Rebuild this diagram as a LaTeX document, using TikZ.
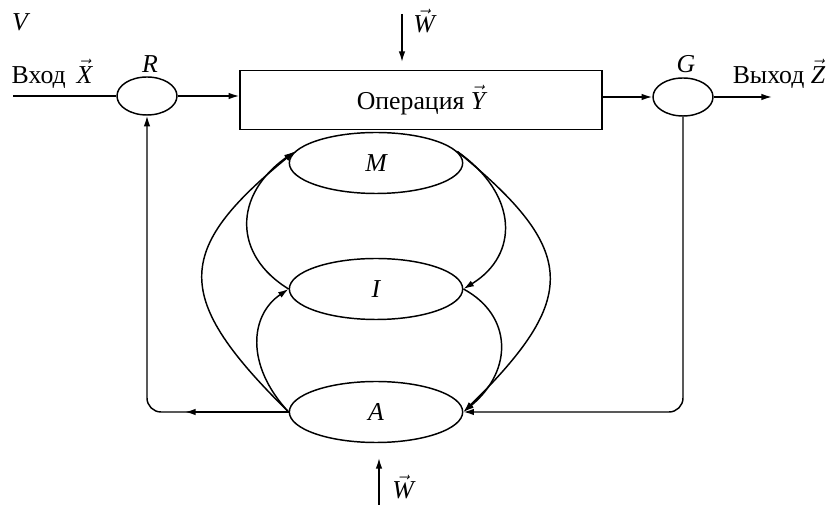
\documentclass[tikz,border=0pt]{standalone}
\usepackage{fontspec}
\setmainfont{Liberation Serif}
\usepackage{amsmath}
\usetikzlibrary{shapes.geometric,arrows.meta}

\newcommand{\iv}[1]{\ensuremath{\vec{\text{\itshape #1}}}}

\begin{document}
\begin{tikzpicture}[x=0.03cm, y=0.03cm, line width=1.25pt,
	every node/.style={font=\fontsize{22}{25}\selectfont},
	knot/.style={ellipse, draw, inner sep=0pt, minimum width=1.8cm, minimum height=1.14cm},
	level/.style={ellipse, draw, inner sep=0pt, minimum width=5.2cm, minimum height=1.83cm},
	arr/.style={-{Latex[length=9pt,width=5.5pt]}}]
	\useasboundingbox (0,0) rectangle (833,505);
	% top row
	\node (V) at (20,483) {\itshape V};
	\node (inlbl) at (52,431) {Вход\, \iv{X}};
	\node (R) [knot] at (147,409) {};
	\node (Rlbl) at (150,441) {\itshape R};
	\node (op) [draw, minimum width=10.86cm, minimum height=1.77cm] at (421,405) {Операция \iv{Y}};
	\node (G) [knot] at (683,408) {};
	\node (Glbl) at (686,441) {\itshape G};
	\node (outlbl) at (779,431) {Выход \iv{Z}};
	\node (Wtop) at (424,484) {\iv{W}};
	\coordinate (in) at (13,409);
	\coordinate (out) at (772,408);
	\coordinate (w1) at (402,491);
	\coordinate (w2) at (402,443);
	\draw (in) -- (R.west);
	\draw[arr] (R.east) -- (R.east -| op.west);
	\draw[arr] (op.east |- G.west) -- (G.west);
	\draw[arr] (G.east) -- (out);
	\draw[arr] (w1) -- (w2);
	% M, I, A
	\node (M) [level] at (376,342) {\itshape M};
	\node (I) [level] at (376,216) {\itshape I};
	\node (A) [level] at (376,93) {\itshape A};
	\draw[arr] (A.west) .. controls (173,207) and (173,254) .. (M.172);
	\draw[arr] (A.west) .. controls (245,140) and (250,190) .. (I.west);
	\draw[arr] (I.west) .. controls (233,250) and (233,310) .. (M.172);
	\draw[arr] (M.8) .. controls (519,310) and (519,250) .. (I.east);
	\draw[arr] (M.8) .. controls (579,254) and (579,207) .. (A.east);
	\draw[arr] (I.east) .. controls (512,190) and (514,135) .. (A.east);
	% feedback
	\coordinate (fb) at (185,93);
	\draw[arr] (A.west) -- (fb);
	\draw[arr, rounded corners=12pt] (A.west) -| (R.south);
	\draw[arr, rounded corners=12pt] (G.south) |- (A.east);
	% bottom disturbance
	\node (Wbot) at (403,18) {\iv{W}};
	\coordinate (w3) at (379,0);
	\coordinate (w4) at (379,47);
	\draw[arr] (w3) -- (w4);
\end{tikzpicture}
\end{document}
